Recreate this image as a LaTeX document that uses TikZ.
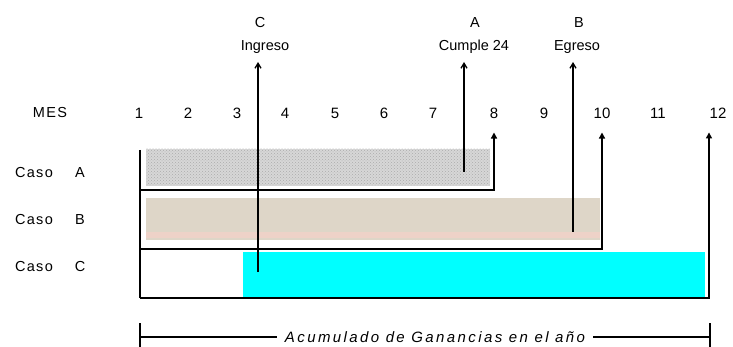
\documentclass[tikz,border=0pt]{standalone}
\usepackage{fontspec}
\setmainfont{Liberation Sans}
\usetikzlibrary{arrows.meta,patterns}
\definecolor{beigebar}{RGB}{222,214,200}
\definecolor{pinkbar}{RGB}{238,210,200}
\definecolor{graybar}{RGB}{215,215,215}
\definecolor{cyanbar}{RGB}{0,255,255}
\tikzset{
  lbl/.style={inner sep=2pt, font=\fontsize{14.5}{16}\selectfont\addfontfeatures{LetterSpace=9}},
  mon/.style={inner sep=2pt, font=\fontsize{15}{17}\selectfont},
  toplbl/.style={inner sep=1pt, font=\fontsize{14.5}{16}\selectfont},
  ln/.style={line width=1.3pt, black},
  casearrow/.style={ln, -{Triangle[length=6pt,width=6pt]}},
  evarrow/.style={ln, -{Straight Barb[length=5pt,width=6pt]}},
}
\begin{document}
\begin{tikzpicture}[x=1pt,y=-1pt]
\useasboundingbox (0,0) rectangle (733,347);
% bars
\fill[beigebar] (146,198) rectangle (600,240);
\fill[pinkbar] (146,232) rectangle (600,238);
\fill[graybar] (146,149) rectangle (490,186);
\fill[pattern=crosshatch dots, pattern color=gray!65] (146,149) rectangle (490,186);
\fill[cyanbar] (243,252) rectangle (705,297);
% labels
\node[lbl] (mes) at (50,113) {MES};
\node[mon] (m1) at (139,113) {1};
\node[mon] (m2) at (188,113) {2};
\node[mon] (m3) at (237,113) {3};
\node[mon] (m4) at (285,113) {4};
\node[mon] (m5) at (335,113) {5};
\node[mon] (m6) at (384,113) {6};
\node[mon] (m7) at (433,113) {7};
\node[mon] (m8) at (494,113) {8};
\node[mon] (m9) at (544,113) {9};
\node[mon] (m10) at (602,113) {10};
\node[mon] (m11) at (658,113) {11};
\node[mon] (m12) at (718,113) {12};
\node[lbl] (casoA) at (34,173) {Caso};
\node[lbl] (letA) at (80,173) {A};
\node[lbl] (casoB) at (34,220) {Caso};
\node[lbl] (letB) at (80,220) {B};
\node[lbl] (casoC) at (34,267) {Caso};
\node[lbl] (letC) at (80,267) {C};
\node[toplbl] (tC) at (260,23) {C};
\node[toplbl] (tIng) at (265,47) {Ingreso};
\node[toplbl] (tA) at (475,23) {A};
\node[toplbl] (tCum) at (474,47) {Cumple 24};
\node[toplbl] (tB) at (579,23) {B};
\node[toplbl] (tEgr) at (577,47) {Egreso};
% case lines
\coordinate (top) at (140,150);
\coordinate (a0) at (140,190);
\coordinate (b0) at (140,249);
\coordinate (c0) at (140,298);
\draw[ln] (top) -- (c0);
\draw[casearrow, shorten >=12pt] (a0) -| (m8.south);
\draw[casearrow, shorten >=12pt] (b0) -| (m10.south);
\draw[casearrow, shorten >=12pt] (c0) -| ([xshift=-9pt]m12.south);
% event arrows
\coordinate (evC) at (258,272);
\coordinate (evA) at (464,172);
\coordinate (evB) at (573,232);
\draw[evarrow] (evC) -- (evC |- 0,62);
\draw[evarrow] (evA) -- (evA |- 0,62);
\draw[evarrow] (evB) -- (evB |- 0,62);
% accumulated
\node[inner sep=0pt, font=\fontsize{15}{17}\selectfont\itshape\addfontfeatures{LetterSpace=16}] (acc) at (435,337) {Acumulado de Ganancias en el año};
\coordinate (l0) at (140,337);
\coordinate (r0) at (710,337);
\draw[ln] (l0) -- ([xshift=-8pt]acc.west);
\draw[ln] ([xshift=8pt]acc.east) -- (r0);
\draw[ln] (140,323) -- (140,347);
\draw[ln] (710,323) -- (710,347);
\end{tikzpicture}
\end{document}
